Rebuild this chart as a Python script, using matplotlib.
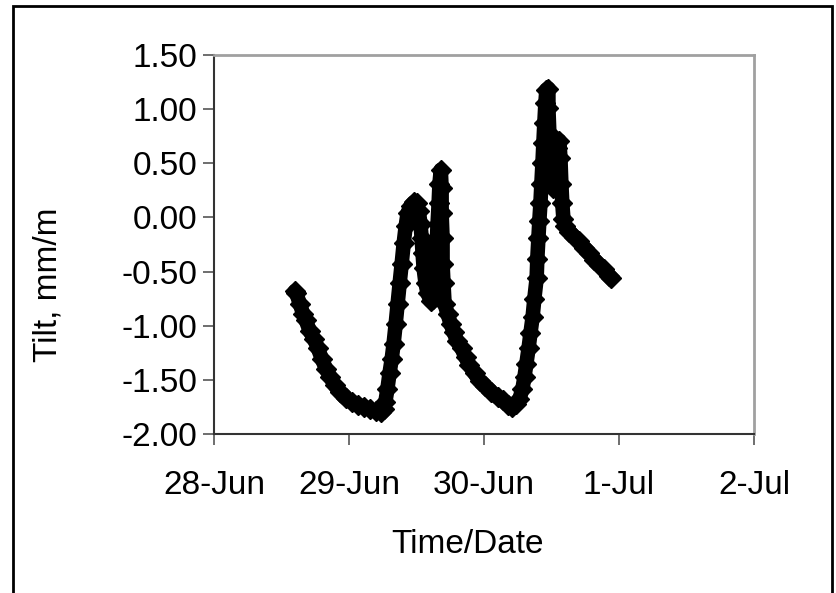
import matplotlib
matplotlib.use("Agg")
import matplotlib.pyplot as plt
from matplotlib.patches import Rectangle

# time in days since 28-Jun 00:00, tilt in mm/m
days = [0.600, 0.610, 0.636, 0.660, 0.680, 0.710, 0.740, 0.770, 0.800, 0.830,
        0.860, 0.895, 0.930, 0.975, 1.020, 1.065, 1.110, 1.155, 1.200, 1.235,
        1.257, 1.270, 1.285, 1.300, 1.316, 1.330, 1.346, 1.360, 1.375, 1.390,
        1.405, 1.420, 1.434, 1.457, 1.480, 1.500, 1.516, 1.530, 1.538, 1.545,
        1.553, 1.567, 1.582, 1.604, 1.620, 1.634, 1.640, 1.650, 1.656, 1.664,
        1.670, 1.680, 1.686, 1.686, 1.693, 1.693, 1.700, 1.708, 1.730, 1.752,
        1.775, 1.800, 1.834, 1.863, 1.890, 1.930, 1.967, 2.010, 2.055, 2.100,
        2.144, 2.180, 2.210, 2.240, 2.262, 2.285, 2.300, 2.314, 2.330, 2.344,
        2.360, 2.373, 2.390, 2.395, 2.403, 2.410, 2.418, 2.425, 2.433, 2.440,
        2.447, 2.455, 2.462, 2.477, 2.477, 2.484, 2.490, 2.500, 2.514, 2.530,
        2.544, 2.558, 2.566, 2.573, 2.580, 2.588, 2.600, 2.632, 2.670, 2.706,
        2.743, 2.780, 2.817, 2.854, 2.890, 2.928, 2.943]
tilt = [-0.68, -0.70, -0.80, -0.89, -0.95, -1.05, -1.12, -1.21, -1.31, -1.40,
        -1.47, -1.55, -1.61, -1.67, -1.70, -1.73, -1.75, -1.77, -1.79, -1.80,
        -1.77, -1.70, -1.58, -1.44, -1.31, -1.17, -0.98, -0.80, -0.61, -0.43,
        -0.24, -0.08, 0.04, 0.11, 0.14, 0.13, 0.06, -0.06, -0.19, -0.33,
        -0.47, -0.61, -0.70, -0.77, -0.75, -0.61, -0.43, -0.24, -0.06, 0.13,
        0.31, 0.44, 0.27, 0.04, -0.19, -0.43, -0.61, -0.80, -0.89, -0.98,
        -1.06, -1.14, -1.21, -1.29, -1.36, -1.44, -1.51, -1.56, -1.61, -1.66,
        -1.69, -1.73, -1.75, -1.72, -1.68, -1.58, -1.47, -1.35, -1.21, -1.07,
        -0.92, -0.75, -0.56, -0.38, -0.19, -0.03, 0.13, 0.31, 0.50, 0.69,
        0.87, 1.06, 1.18, 1.19, 1.01, 0.78, 0.55, 0.36, 0.27, 0.45,
        0.64, 0.71, 0.55, 0.31, 0.13, -0.01, -0.08, -0.13, -0.18, -0.22,
        -0.28, -0.33, -0.39, -0.44, -0.48, -0.54, -0.56]

x_ticks = [0, 1, 2, 3, 4]
x_tick_labels = ["28-Jun", "29-Jun", "30-Jun", "1-Jul", "2-Jul"]
y_ticks = [-2.0, -1.5, -1.0, -0.5, 0.0, 0.5, 1.0, 1.5]

plt.rcParams['font.family'] = ['Liberation Sans', 'DejaVu Sans']

fig = plt.figure(figsize=(8.36, 5.93), dpi=100)
fig.patch.set_facecolor('white')
fig.add_artist(Rectangle((13/836, -0.05), (832-13)/836, 1.05 - 6/593,
                         transform=fig.transFigure, fill=False,
                         edgecolor='black', linewidth=2))

ax = fig.add_axes([214/836, 1-434/593, (754-214)/836, (434-55)/593])
ax.plot(days, tilt, color='black', linewidth=10.5, solid_capstyle='round',
        solid_joinstyle='round', marker='D', markersize=10.5,
        markerfacecolor='black', markeredgecolor='black')

ax.set_xlim(0, 4)
ax.set_ylim(-2.0, 1.5)
ax.set_xticks(x_ticks)
ax.set_xticklabels(x_tick_labels)
ax.set_yticks(y_ticks)
ax.set_yticklabels([f"{v:.2f}" for v in y_ticks])

for s in ['left', 'bottom']:
    ax.spines[s].set_color('#333333')
    ax.spines[s].set_linewidth(1.5)
for s in ['top', 'right']:
    ax.spines[s].set_color('#a0a0a0')
    ax.spines[s].set_linewidth(2)

ax.tick_params(axis='both', direction='out', length=8, width=1.2,
               color='#555555', labelsize=24)
ax.tick_params(axis='x', pad=18)
ax.tick_params(axis='y', pad=4)
ax.set_xlabel("Time/Date", fontsize=24, va='top')
ax.xaxis.set_label_coords(0.469, -0.25)
ax.set_ylabel("Tilt, mm/m", fontsize=24)
ax.yaxis.set_label_coords(-0.278, 0.393)

fig.savefig("out.png", dpi=100, facecolor='white')
